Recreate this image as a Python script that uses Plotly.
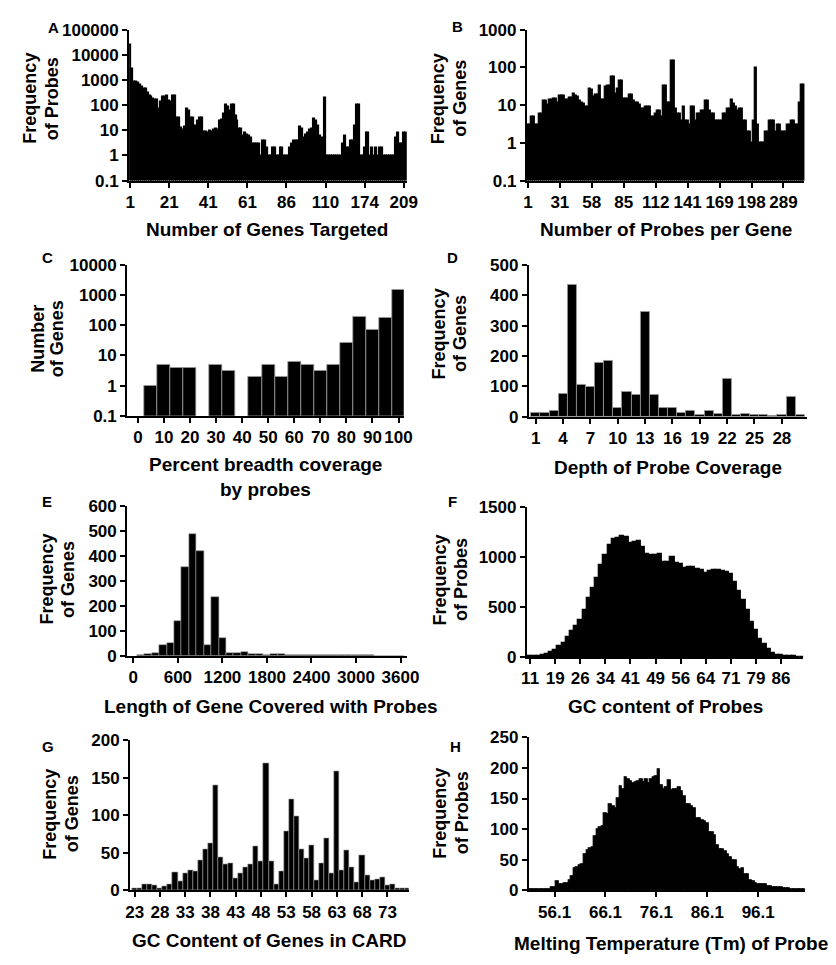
import plotly.graph_objects as go

FONT = "Liberation Sans, Arial, Helvetica, sans-serif"
W, H = 836, 965

# ---------------- data ----------------
# A: Number of Genes Targeted (frequency of probes, log)
a_freq = [25000, 2700, 850, 850, 750, 650, 550, 450, 450, 320,
          240, 220, 180, 170, 160, 75, 140, 220, 220, 230,
          150, 140, 230, 230, 33, 33, 13, 11, 14, 75,
          60, 33, 33, 13, 15, 25, 33, 33, 9, 9,
          8, 10, 9, 11, 12, 11, 25, 27, 45, 100,
          90, 60, 100, 100, 40, 25, 12, 12, 6, 8,
          7, 6, 5, 3, 3, 3, 3, 1, 4, 4,
          2, 1, 1, 2, 2, 1, 1, 2, 2, 1,
          1, 1, 2, 3, 4, 4, 4, 14, 12, 5,
          7, 8, 11, 12, 30, 25, 15, 6, 5, 4,
          200, 1, 1, 1, 1, 1, 1, 1, 1, 3,
          6, 2, 2, 4, 4, 15, 100, 100, 1, 1,
          2, 8, 8, 1, 2, 1, 2, 1, 2, 2,
          1, 1, 1, 1, 1, 1, 5, 8, 3, 3,
          8, 8]
a_tick_labels = ["1", "21", "41", "61", "86", "110", "174", "209"]
a_tick_idx = [0, 20, 40, 60, 80, 100, 120, 140]

# B: Number of Probes per Gene (frequency of genes, log)
b_freq = [3, 3, 5, 5, 3, 3, 6, 6, 13, 13,
          10, 14, 14, 15, 15, 12, 18, 18, 18, 14,
          14, 16, 16, 20, 18, 17, 13, 12, 11, 9,
          9, 27, 25, 17, 19, 19, 33, 14, 14, 30,
          33, 33, 58, 58, 20, 27, 45, 45, 15, 15,
          15, 19, 19, 13, 12, 12, 10, 8, 8, 9,
          9, 9, 5, 5, 6, 7, 7, 5, 33, 33,
          12, 12, 150, 150, 8, 6, 6, 4, 9, 4,
          4, 3, 9, 9, 4, 6, 6, 7, 7, 13,
          13, 7, 6, 6, 4, 4, 4, 4, 6, 6,
          8, 8, 14, 11, 9, 7, 8, 8, 4, 4,
          2, 2, 1, 4, 100, 3, 1, 1, 1, 2,
          2, 4, 4, 4, 2, 3, 3, 2, 2, 2,
          3, 3, 4, 4, 3, 3, 12, 35, 35]
b_tick_labels = ["1", "31", "58", "85", "112", "141", "169", "198", "289"]
b_tick_idx = [0, 16, 32, 48, 64, 80, 96, 112, 128]

# C: Percent breadth coverage (number of genes, log)
c_pct = [0, 5, 10, 15, 20, 25, 30, 35, 40, 45, 50,
         55, 60, 65, 70, 75, 80, 85, 90, 95, 100]
c_genes = [None, 1, 5, 4, 4, None, 5, 3, None, 2, 5,
           2, 6, 5, 3, 5, 27, 190, 70, 170, 1500]
c_tick_vals = [0, 10, 20, 30, 40, 50, 60, 70, 80, 90, 100]

# D: Depth of probe coverage
d_depth = [1, 2, 3, 4, 5, 6, 7, 8, 9, 10, 11, 12, 13, 14, 15,
           16, 17, 18, 19, 20, 21, 22, 23, 24, 25, 26, 27, 28, 29, 30]
d_genes = [12, 12, 20, 75, 435, 105, 100, 178, 183, 30, 82, 73, 347, 73, 28,
           28, 13, 18, 8, 20, 10, 125, 6, 9, 6, 6, 3, 7, 65, 8]
d_tick_vals = [1, 4, 7, 10, 13, 16, 19, 22, 25, 28]

# E: Length of gene covered with probes
e_len = [100, 200, 300, 400, 500, 600, 700, 800, 900, 1000, 1100, 1200,
         1300, 1400, 1500, 1600, 1700, 1800, 1900, 2000, 2100, 2200, 2300, 2400,
         2500, 2600, 2700, 2800, 2900, 3000, 3100, 3200, 3300, 3400, 3500, 3600]
e_genes = [3, 6, 10, 44, 52, 138, 355, 490, 420, 45, 235, 72,
           10, 13, 15, 8, 6, 5, 6, 7, 5, 3, 3, 2,
           3, 4, 3, 2, 4, 3, 4, 2, 1, 1, 1, 1]
e_tick_vals = [0, 600, 1200, 1800, 2400, 3000, 3600]

# F: GC content of probes
f_probes = [5, 6, 10, 18, 30, 45, 65, 110, 140, 200,
            260, 310, 370, 470, 590, 685, 790, 920, 1025, 1120,
            1180, 1190, 1210, 1205, 1140, 1150, 1160, 1100, 1035, 1025,
            1020, 1035, 950, 955, 1005, 940, 930, 890, 900, 895,
            875, 865, 840, 855, 865, 865, 855, 850, 825, 745,
            660, 565, 470, 350, 265, 180, 125, 75, 40, 22,
            15, 12, 8, 6, 4, 3]
f_tick_labels = ["11", "19", "26", "34", "41", "49", "56", "64", "71", "79", "86"]
f_tick_idx = [0, 6, 12, 18, 24, 30, 36, 42, 48, 54, 60]

# G: GC content of genes in CARD
g_gc = [23, 24, 25, 26, 27, 28, 29, 30, 31, 32, 33, 34, 35, 36, 37, 38, 39, 40, 41,
        42, 43, 44, 45, 46, 47, 48, 49, 50, 51, 52, 53, 54, 55, 56, 57, 58, 59, 60,
        61, 62, 63, 64, 65, 66, 67, 68, 69, 70, 71, 72, 73, 74, 75, 76, 77]
g_genes = [2, 2, 8, 8, 7, 3, 5, 8, 24, 12, 22, 27, 25, 40, 55, 63, 140, 44, 34,
           36, 16, 22, 30, 35, 59, 38, 169, 38, 8, 25, 78, 121, 98, 55, 43, 60, 13, 36,
           69, 23, 159, 26, 53, 31, 10, 46, 20, 13, 15, 17, 6, 8, 2, 3, 3]
g_tick_vals = [23, 28, 33, 38, 43, 48, 53, 58, 63, 68, 73]

# H: Melting temperature of probes
h_tm = [51.1, 51.6, 52.1, 52.6, 53.1, 53.6, 54.1, 54.6, 55.1, 55.6,
        56.1, 56.6, 57.1, 57.6, 58.1, 58.6, 59.1, 59.6, 60.1, 60.6,
        61.1, 61.6, 62.1, 62.6, 63.1, 63.6, 64.1, 64.6, 65.1, 65.6,
        66.1, 66.6, 67.1, 67.6, 68.1, 68.6, 69.1, 69.6, 70.1, 70.6,
        71.1, 71.6, 72.1, 72.6, 73.1, 73.6, 74.1, 74.6, 75.1, 75.6,
        76.1, 76.6, 77.1, 77.6, 78.1, 78.6, 79.1, 79.6, 80.1, 80.6,
        81.1, 81.6, 82.1, 82.6, 83.1, 83.6, 84.1, 84.6, 85.1, 85.6,
        86.1, 86.6, 87.1, 87.6, 88.1, 88.6, 89.1, 89.6, 90.1, 90.6,
        91.1, 91.6, 92.1, 92.6, 93.1, 93.6, 94.1, 94.6, 95.1, 95.6,
        96.1, 96.6, 97.1, 97.6, 98.1, 98.6, 99.1, 99.6, 100.1, 100.6,
        101.1, 101.6, 102.1, 102.6, 103.1, 103.6, 104.1, 104.6, 105.1]
h_probes = [2, 2, 2, 1, 2, 2, 1, 2, 2, 4,
            5, 15, 10, 10, 11, 12, 17, 23, 36, 38,
            40, 43, 59, 66, 68, 71, 88, 100, 103, 105,
            126, 124, 141, 138, 134, 150, 170, 165, 185, 182,
            178, 174, 176, 178, 182, 177, 181, 174, 182, 184,
            186, 197, 172, 165, 168, 180, 163, 165, 165, 169,
            161, 153, 141, 141, 137, 134, 118, 118, 114, 113,
            110, 95, 95, 90, 74, 67, 67, 63, 59, 54,
            49, 49, 38, 35, 36, 26, 26, 17, 14, 11,
            10, 10, 10, 9, 7, 7, 5, 5, 4, 4,
            3, 3, 3, 2, 2, 2, 1, 2, 1]
h_tick_vals = [56.1, 66.1, 76.1, 86.1, 96.1]

# ---------------- figure ----------------
fig = go.Figure()


def xd(x0, x1):
    return [x0 / W, x1 / W]


def yd(y0, y1):
    return [1 - y1 / H, 1 - y0 / H]


tickfont = dict(family=FONT, size=17, color="black", weight="bold")
axis_base = dict(showline=True, linecolor="black", linewidth=2, ticks="outside",
                 ticklen=5, tickwidth=2, tickcolor="black", showgrid=False,
                 zeroline=False, tickfont=tickfont, fixedrange=True)

panels = []
# (suffix, x, y, width, edge, xdomain px, ydomain px, xaxis extra, yaxis extra)
panels.append(("", list(range(len(a_freq))), a_freq, 1, 0,
               (126, 410), (21, 175),
               dict(range=[-0.5, 141.5], tickvals=a_tick_idx, ticktext=a_tick_labels),
               dict(type="log", range=[-1, 5],
                    tickvals=[0.1, 1, 10, 100, 1000, 10000, 100000],
                    ticktext=["0.1", "1", "10", "100", "1000", "10000", "100000"])))
panels.append(("2", list(range(len(b_freq))), b_freq, 1, 0,
               (533, 817), (21, 175),
               dict(range=[-0.5, 138.5], tickvals=b_tick_idx, ticktext=b_tick_labels),
               dict(type="log", range=[-1, 3],
                    tickvals=[0.1, 1, 10, 100, 1000],
                    ticktext=["0.1", "1", "10", "100", "1000"])))
panels.append(("3", c_pct, c_genes, 5, 0.8,
               (124, 407), (261, 415),
               dict(range=[-4.1, 102], tickvals=c_tick_vals),
               dict(type="log", range=[-1, 4],
                    tickvals=[0.1, 1, 10, 100, 1000, 10000],
                    ticktext=["0.1", "1", "10", "100", "1000", "10000"])))
panels.append(("4", d_depth, d_genes, 1, 0.8,
               (535, 820), (261, 416),
               dict(range=[0.25, 30.8], tickvals=d_tick_vals),
               dict(range=[0, 500], tickvals=[0, 100, 200, 300, 400, 500])))
panels.append(("5", e_len, e_genes, 100, 0.6,
               (124, 410), (507, 660),
               dict(range=[-83, 3683], tickvals=e_tick_vals),
               dict(range=[0, 600], tickvals=[0, 100, 200, 300, 400, 500, 600])))
panels.append(("6", list(range(len(f_probes))), f_probes, 1, 0,
               (533, 816), (508, 661),
               dict(range=[-0.77, 65.35], tickvals=f_tick_idx, ticktext=f_tick_labels),
               dict(range=[0, 1500], tickvals=[0, 500, 1000, 1500])))
panels.append(("7", g_gc, g_genes, 1, 0.6,
               (127, 412), (746, 899),
               dict(range=[22.1, 77.2], tickvals=g_tick_vals),
               dict(range=[0, 200], tickvals=[0, 50, 100, 150, 200])))
panels.append(("8", h_tm, h_probes, 0.5, 0,
               (535, 818), (743, 899),
               dict(range=[51.05, 105.37], tickvals=h_tick_vals,
                    ticktext=["56.1", "66.1", "76.1", "86.1", "96.1"]),
               dict(range=[0, 250], tickvals=[0, 50, 100, 150, 200, 250])))

layout = dict(width=W, height=H, margin=dict(l=0, r=0, t=0, b=0),
              paper_bgcolor="white", plot_bgcolor="white", showlegend=False,
              bargap=0, font=dict(family=FONT, color="black"))

for suf, xs, ys, wd, edge, xdp, ydp, xextra, yextra in panels:
    if edge:
        line = dict(color="#9a9a9a", width=edge)
    else:
        line = dict(color="black", width=1.2)
    fig.add_trace(go.Bar(x=xs, y=ys, width=wd, marker=dict(color="black", line=line),
                         xaxis="x" + suf, yaxis="y" + suf, hoverinfo="skip"))
    xa = dict(axis_base)
    xa.update(domain=xd(*xdp), anchor="y" + suf)
    xa.update(xextra)
    ya = dict(axis_base)
    ya.update(domain=yd(*ydp), anchor="x" + suf)
    ya.update(yextra)
    layout["xaxis" + suf] = xa
    layout["yaxis" + suf] = ya

fig.update_layout(**layout)

ann = []


def text(s, x, y, size, angle=0, xanchor="center"):
    ann.append(dict(text=s, x=x / W, y=1 - y / H, xref="paper", yref="paper",
                    showarrow=False, textangle=angle, xanchor=xanchor, yanchor="middle",
                    font=dict(family=FONT, size=size, color="black", weight="bold")))


# panel letters
for s, x, y in [("A", 49, 19), ("B", 462, 18), ("C", 42, 253), ("D", 457, 253),
                ("E", 42, 502), ("F", 457, 502), ("G", 43, 752), ("H", 460, 752)]:
    text(s, x, y, 15)

# y titles (two lines each)
for l1, l2, x1, x2, y in [("Frequency", "of Probes", 25, 47, 91),
                          ("Frequency", "of Genes", 442, 465, 91),
                          ("Number", "of Genes", 33, 53, 336),
                          ("Frequency", "of Genes", 444, 465, 331),
                          ("Frequency", "of Genes", 41, 63, 582),
                          ("Frequency", "of Probes", 444, 465, 582),
                          ("Frequency", "of Genes", 45, 67, 821),
                          ("Frequency", "of Probes", 444, 466, 820)]:
    text(l1, x1, y, 18, angle=-90)
    text(l2, x2, y, 18, angle=-90)

# x titles
text("Number of Genes Targeted", 267, 225, 19)
text("Number of Probes per Gene", 675, 225, 19)
text("Percent breadth coverage", 266, 465, 19)
text("by probes", 266, 490, 19)
text("Depth of Probe Coverage", 677, 468, 19)
text("Length of Gene Covered with Probes", 98, 712, 19, xanchor="left")
text("GC content of Probes", 675, 712, 19)
text("GC Content of Genes in CARD", 269, 950, 19)
text("Melting Temperature (Tm) of Probe", 518, 953, 19, xanchor="left")

fig.update_layout(annotations=ann)
fig.write_html("out.html", config={"displayModeBar": False},
               post_script="document.body.style.margin='0';document.body.style.padding='0';")
